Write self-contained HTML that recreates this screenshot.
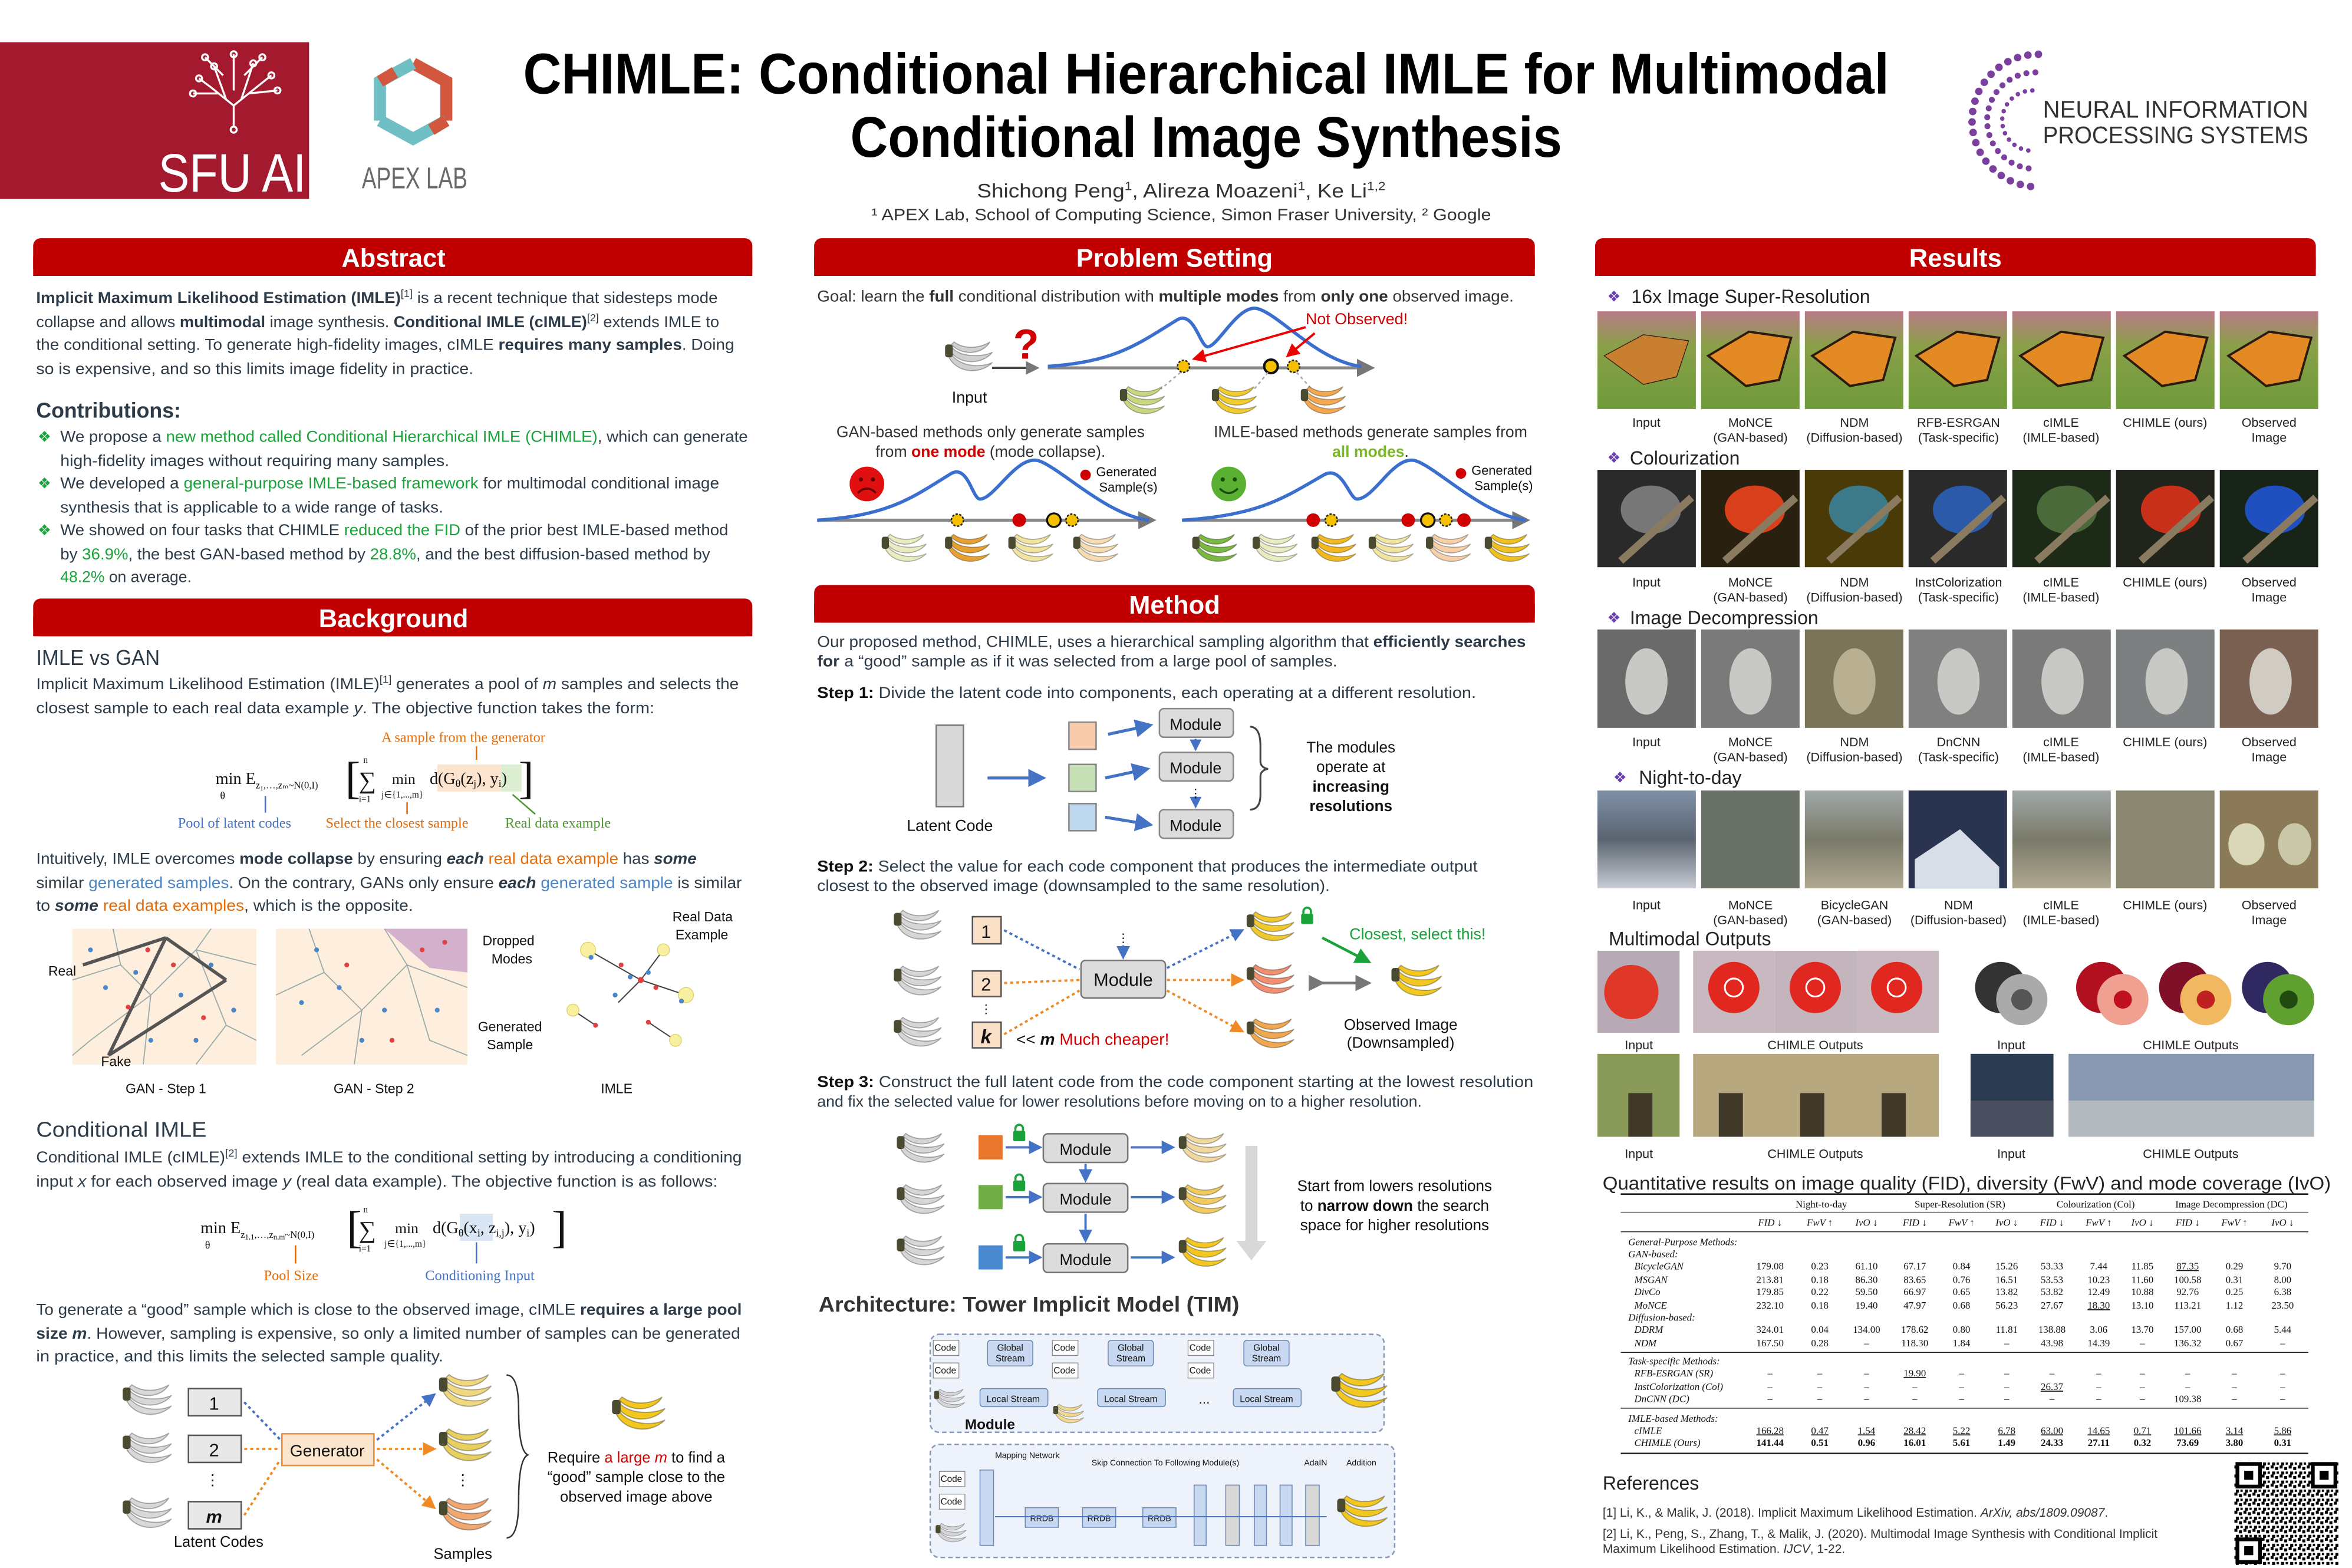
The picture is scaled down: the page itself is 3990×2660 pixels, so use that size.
<!DOCTYPE html>
<html><head><meta charset="utf-8"><style>
html,body{margin:0;padding:0;background:#fff;width:3990px;height:2660px;overflow:hidden}
svg{display:block}
text{font-family:"Liberation Sans",sans-serif;fill:#2d3b48}
.s{font-family:"Liberation Serif",serif}
.w{fill:#fff;font-weight:bold}
.g{fill:#1aa33a}.r{fill:#d10000}.o{fill:#e36c0a}.bl{fill:#4a86c8}
.b{font-weight:bold}
.lab{font-size:8.4px;text-anchor:middle;fill:#222}
.tb{font-family:"Liberation Serif",serif;font-size:6.6px;fill:#111;text-anchor:middle}
.tl{font-family:"Liberation Serif",serif;font-size:6.6px;fill:#111;font-style:italic}
</style></head><body>
<svg width="3990" height="2660" viewBox="0 0 1560 1040" xmlns="http://www.w3.org/2000/svg">
<defs>
<symbol id="ban" viewBox="0 0 40 32">
<path d="M4,16 C10,28 28,30 38,20 C30,24 14,24 6,14 Z" fill="currentColor" stroke="rgba(0,0,0,.3)" stroke-width=".8"/>
<path d="M5,11 C12,22 30,22 38,12 C30,16 14,16 7,9 Z" fill="currentColor" stroke="rgba(0,0,0,.3)" stroke-width=".8"/>
<path d="M6,6 C14,15 30,14 36,4 C28,9 16,10 8,4 Z" fill="currentColor" stroke="rgba(0,0,0,.3)" stroke-width=".8"/>
<rect x="1" y="6" width="6" height="10" rx="2" fill="#4a4a30"/>
</symbol>
<symbol id="lock" viewBox="0 0 10 12"><path d="M2.5,5 V3.5 a2.5,2.5 0 0 1 5,0 V5" fill="none" stroke="#1aa33a" stroke-width="1.4"/><rect x="1" y="5" width="8" height="7" rx="1" fill="#1aa33a"/></symbol>
<marker id="ab" markerWidth="6" markerHeight="6" refX="5" refY="3" orient="auto"><path d="M0,0 L6,3 L0,6Z" fill="#4472c4"/></marker>
<marker id="ag" markerWidth="6" markerHeight="6" refX="5" refY="3" orient="auto"><path d="M0,0 L6,3 L0,6Z" fill="#777"/></marker>
<marker id="ar" markerWidth="6" markerHeight="6" refX="5" refY="3" orient="auto"><path d="M0,0 L6,3 L0,6Z" fill="#e00"/></marker>
<marker id="ao" markerWidth="6" markerHeight="6" refX="5" refY="3" orient="auto"><path d="M0,0 L6,3 L0,6Z" fill="#f08a24"/></marker>
<marker id="agr" markerWidth="6" markerHeight="6" refX="5" refY="3" orient="auto"><path d="M0,0 L6,3 L0,6Z" fill="#1aa33a"/></marker>
<linearGradient id="gsr" x1="0" y1="0" x2="0" y2="1"><stop offset="0" stop-color="#b87a88"/><stop offset=".35" stop-color="#8aa048"/><stop offset="1" stop-color="#6e9a3a"/></linearGradient>
<linearGradient id="gnt" x1="0" y1="0" x2="0" y2="1"><stop offset="0" stop-color="#8090a8"/><stop offset=".5" stop-color="#5a6470"/><stop offset="1" stop-color="#c8ccd4"/></linearGradient>
<linearGradient id="gnd" x1="0" y1="0" x2="0" y2="1"><stop offset="0" stop-color="#a0a8a8"/><stop offset=".5" stop-color="#7a7a6a"/><stop offset="1" stop-color="#b0a890"/></linearGradient>
<pattern id="qr" width="6" height="6" patternUnits="userSpaceOnUse"><rect width="6" height="6" fill="#fff"/><rect x="0" y="0" width="2" height="2" fill="#000"/><rect x="3" y="1" width="2" height="2" fill="#000"/><rect x="1" y="4" width="2" height="2" fill="#000"/><rect x="4" y="4" width="1.5" height="1.5" fill="#000"/></pattern>
</defs>

<!-- HEADER -->
<rect x="0" y="28" width="205" height="104" fill="#a31a2f"/>
<g stroke="#fff" stroke-width="1.3" fill="none">
<path d="M155,84 V70 M155,70 L140,58 L132,52 M155,70 L170,58 L180,50 M150,66 L142,44 M160,66 L168,42 M155,60 V36 M148,50 L136,38 M162,50 L174,38 M145,62 L128,62 M165,62 L184,60"/>
<circle cx="155" cy="36" r="2"/><circle cx="132" cy="52" r="2"/><circle cx="180" cy="50" r="2"/><circle cx="142" cy="44" r="2"/><circle cx="168" cy="42" r="2"/><circle cx="136" cy="38" r="2"/><circle cx="174" cy="38" r="2"/><circle cx="128" cy="62" r="2"/><circle cx="184" cy="60" r="2"/><circle cx="155" cy="86" r="2"/>
</g>
<text x="105" y="127" font-size="36" fill="#fff" style="fill:#fff" textLength="98" lengthAdjust="spacingAndGlyphs">SFU AI</text>
<g fill="none" stroke-width="8">
<path d="M274,42 L296,54 L296,80" stroke="#d2573f"/>
<path d="M296,80 L274,92 L252,80" stroke="#6fbfc4"/>
<path d="M252,80 L252,54 L274,42" stroke="#6fbfc4"/>
<path d="M252,54 L262,48" stroke="#d2573f"/>
<path d="M286,86 L296,80" stroke="#d2573f"/>
</g>
<text x="240" y="125" font-size="20" style="fill:#6a6a6a" textLength="70" lengthAdjust="spacingAndGlyphs">APEX LAB</text>
<text x="347" y="62" font-size="38" class="b" style="fill:#000" textLength="906" lengthAdjust="spacingAndGlyphs">CHIMLE: Conditional Hierarchical IMLE for Multimodal</text>
<text x="564" y="104" font-size="38" class="b" style="fill:#000" textLength="472" lengthAdjust="spacingAndGlyphs">Conditional Image Synthesis</text>
<text x="648" y="131" font-size="13" style="fill:#333" textLength="271" lengthAdjust="spacingAndGlyphs">Shichong Peng<tspan font-size="8" dy="-5">1</tspan><tspan dy="5">, Alireza Moazeni</tspan><tspan font-size="8" dy="-5">1</tspan><tspan dy="5">, Ke Li</tspan><tspan font-size="8" dy="-5">1,2</tspan></text>
<text x="578" y="146" font-size="11" style="fill:#333" textLength="411" lengthAdjust="spacingAndGlyphs">¹ APEX Lab, School of Computing Science, Simon Fraser University, ² Google</text>
<g fill="none" stroke="#7b3f9e" stroke-linecap="round">
<path d="M1352,36 A44,44 0 1 0 1352,124" stroke-width="5" stroke-dasharray="0 7"/>
<path d="M1350,48 A32,32 0 1 0 1350,112" stroke-width="4" stroke-dasharray="0 6"/>
<path d="M1348,60 A20,20 0 1 0 1348,100" stroke-width="3" stroke-dasharray="0 5"/>
</g>
<text x="1355" y="78" font-size="16" style="fill:#333" textLength="176" lengthAdjust="spacingAndGlyphs">NEURAL INFORMATION</text>
<text x="1355" y="95" font-size="16" style="fill:#333" textLength="176" lengthAdjust="spacingAndGlyphs">PROCESSING SYSTEMS</text>

<!-- SECTION BARS -->
<g fill="#c00000">
<rect x="22" y="158" width="477" height="25" rx="5"/><rect x="22" y="170" width="477" height="13"/>
<rect x="22" y="397" width="477" height="25" rx="5"/><rect x="22" y="409" width="477" height="13"/>
<rect x="540" y="158" width="478" height="25" rx="5"/><rect x="540" y="170" width="478" height="13"/>
<rect x="540" y="388" width="478" height="25" rx="5"/><rect x="540" y="400" width="478" height="13"/>
<rect x="1058" y="158" width="478" height="25" rx="5"/><rect x="1058" y="170" width="478" height="13"/>
</g>
<g font-size="17" text-anchor="middle">
<text x="261" y="177" class="w">Abstract</text>
<text x="261" y="416" class="w">Background</text>
<text x="779" y="177" class="w">Problem Setting</text>
<text x="779" y="407" class="w">Method</text>
<text x="1297" y="177" class="w">Results</text>
</g>

<!-- ABSTRACT -->
<g font-size="10.6">
<text x="24" y="201" textLength="452" lengthAdjust="spacingAndGlyphs"><tspan class="b">Implicit Maximum Likelihood Estimation (IMLE)</tspan><tspan font-size="7" dy="-4">[1]</tspan><tspan dy="4"> is a recent technique that sidesteps mode</tspan></text>
<text x="24" y="217" textLength="453" lengthAdjust="spacingAndGlyphs">collapse and allows <tspan class="b">multimodal</tspan> image synthesis. <tspan class="b">Conditional IMLE (cIMLE)</tspan><tspan font-size="7" dy="-4">[2]</tspan><tspan dy="4"> extends IMLE to</tspan></text>
<text x="24" y="232" textLength="463" lengthAdjust="spacingAndGlyphs">the conditional setting. To generate high-fidelity images, cIMLE <tspan class="b">requires many samples</tspan>. Doing</text>
<text x="24" y="248" textLength="290" lengthAdjust="spacingAndGlyphs">so is expensive, and so this limits image fidelity in practice.</text>
<text x="24" y="277" font-size="14" class="b" textLength="96" lengthAdjust="spacingAndGlyphs">Contributions:</text>
<g font-size="10" style="fill:#1aa33a"><text x="25" y="293" class="g">❖</text><text x="25" y="324" class="g">❖</text><text x="25" y="355" class="g">❖</text></g>
<text x="40" y="293" textLength="456" lengthAdjust="spacingAndGlyphs">We propose a <tspan class="g">new method called Conditional Hierarchical IMLE (CHIMLE)</tspan>, which can generate</text>
<text x="40" y="309" textLength="258" lengthAdjust="spacingAndGlyphs">high-fidelity images without requiring many samples.</text>
<text x="40" y="324" textLength="437" lengthAdjust="spacingAndGlyphs">We developed a <tspan class="g">general-purpose IMLE-based framework</tspan> for multimodal conditional image</text>
<text x="40" y="340" textLength="254" lengthAdjust="spacingAndGlyphs">synthesis that is applicable to a wide range of tasks.</text>
<text x="40" y="355" textLength="443" lengthAdjust="spacingAndGlyphs">We showed on four tasks that CHIMLE <tspan class="g">reduced the FID</tspan> of the prior best IMLE-based method</text>
<text x="40" y="371" textLength="431" lengthAdjust="spacingAndGlyphs">by <tspan class="g">36.9%</tspan>, the best GAN-based method by <tspan class="g">28.8%</tspan>, and the best diffusion-based method by</text>
<text x="40" y="386" textLength="87" lengthAdjust="spacingAndGlyphs"><tspan class="g">48.2%</tspan> on average.</text>

<!-- BACKGROUND -->
<text x="24" y="441" font-size="14" textLength="82" lengthAdjust="spacingAndGlyphs">IMLE vs GAN</text>
<text x="24" y="457" textLength="466" lengthAdjust="spacingAndGlyphs">Implicit Maximum Likelihood Estimation (IMLE)<tspan font-size="7" dy="-4">[1]</tspan><tspan dy="4"> generates a pool of </tspan><tspan font-style="italic">m</tspan> samples and selects the</text>
<text x="24" y="473" textLength="410" lengthAdjust="spacingAndGlyphs">closest sample to each real data example <tspan font-style="italic">y</tspan>. The objective function takes the form:</text>
<text x="24" y="573" textLength="438" lengthAdjust="spacingAndGlyphs">Intuitively, IMLE overcomes <tspan class="b">mode collapse</tspan> by ensuring <tspan class="b" font-style="italic">each</tspan> <tspan class="o">real data example</tspan> has <tspan class="b" font-style="italic">some</tspan></text>
<text x="24" y="589" textLength="468" lengthAdjust="spacingAndGlyphs">similar <tspan class="bl">generated samples</tspan>. On the contrary, GANs only ensure <tspan class="b" font-style="italic">each</tspan> <tspan class="bl">generated sample</tspan> is similar</text>
<text x="24" y="604" textLength="250" lengthAdjust="spacingAndGlyphs">to <tspan class="b" font-style="italic">some</tspan> <tspan class="o">real data examples</tspan>, which is the opposite.</text>
<text x="24" y="754" font-size="14" textLength="113" lengthAdjust="spacingAndGlyphs">Conditional IMLE</text>
<text x="24" y="771" textLength="468" lengthAdjust="spacingAndGlyphs">Conditional IMLE (cIMLE)<tspan font-size="7" dy="-4">[2]</tspan><tspan dy="4"> extends IMLE to the conditional setting by introducing a conditioning</tspan></text>
<text x="24" y="787" textLength="452" lengthAdjust="spacingAndGlyphs">input <tspan font-style="italic">x</tspan> for each observed image <tspan font-style="italic">y</tspan> (real data example). The objective function is as follows:</text>
<text x="24" y="872" textLength="468" lengthAdjust="spacingAndGlyphs">To generate a “good” sample which is close to the observed image, cIMLE <tspan class="b">requires a large pool</tspan></text>
<text x="24" y="888" textLength="467" lengthAdjust="spacingAndGlyphs"><tspan class="b">size <tspan font-style="italic">m</tspan></tspan>. However, sampling is expensive, so only a limited number of samples can be generated</text>
<text x="24" y="903" textLength="270" lengthAdjust="spacingAndGlyphs">in practice, and this limits the selected sample quality.</text>
</g>

<!-- formula 1 -->
<g class="s">
<text x="253" y="492" font-size="9.5" class="s o">A sample from the generator</text>
<line x1="316" y1="495" x2="316" y2="504" stroke="#e36c0a" stroke-width="1"/>
<rect x="290" y="507" width="42" height="18" fill="#fde4cf"/>
<rect x="332" y="507" width="14" height="18" fill="#dcefd2"/>
<text x="143" y="520" font-size="11" class="s" style="fill:#111">min E<tspan font-size="6.5" dy="3">z₁,…,zₘ~N(0,I)</tspan></text>
<text x="146" y="530" font-size="7" class="s" style="fill:#111">θ</text>
<text x="229" y="526" font-size="30" class="s" style="fill:#111">[</text>
<text x="238" y="523" font-size="16" class="s" style="fill:#111">∑</text>
<text x="241" y="506" font-size="6" class="s" style="fill:#111">n</text>
<text x="238" y="532" font-size="6" class="s" style="fill:#111">i=1</text>
<text x="260" y="520" font-size="10" class="s" style="fill:#111">min</text>
<text x="253" y="529" font-size="6" class="s" style="fill:#111">j∈{1,...,m}</text>
<text x="285" y="520" font-size="11" class="s" style="fill:#111">d(G<tspan font-size="7" dy="2">θ</tspan><tspan dy="-2">(z</tspan><tspan font-size="7" dy="2">j</tspan><tspan dy="-2">), y</tspan><tspan font-size="7" dy="2">i</tspan><tspan dy="-2">)</tspan></text>
<text x="344" y="526" font-size="30" class="s" style="fill:#111">]</text>
<text x="118" y="549" font-size="9.5" class="s" style="fill:#4472c4">Pool of latent codes</text>
<text x="216" y="549" font-size="9.5" class="s o">Select the closest sample</text>
<text x="335" y="549" font-size="9.5" class="s" style="fill:#4e9a2e">Real data example</text>
<line x1="176" y1="528" x2="176" y2="539" stroke="#4472c4"/><line x1="270" y1="532" x2="270" y2="540" stroke="#e36c0a"/><line x1="340" y1="527" x2="355" y2="540" stroke="#4e9a2e"/>
</g>

<!-- voronoi -->
<g>
<rect x="48" y="616" width="122" height="90" fill="#fdeedd"/>
<g stroke="#9aa" stroke-width=".7" fill="none"><path d="M48,650 L80,640 L100,660 L130,630 L170,640 M80,640 L75,616 M100,660 L95,706 M130,630 L140,616 M130,630 L150,680 L170,690 M100,660 L60,690 L48,700 M150,680 L130,706"/></g>
<g stroke="#555" stroke-width="2.2"><line x1="55" y1="640" x2="110" y2="622"/><line x1="110" y1="622" x2="150" y2="650"/><line x1="72" y1="700" x2="110" y2="622"/><line x1="72" y1="700" x2="150" y2="650"/></g>
<g fill="#4a86c8"><circle cx="70" cy="655" r="1.6"/><circle cx="90" cy="645" r="1.6"/><circle cx="120" cy="660" r="1.6"/><circle cx="140" cy="640" r="1.6"/><circle cx="100" cy="690" r="1.6"/><circle cx="130" cy="690" r="1.6"/><circle cx="155" cy="670" r="1.6"/><circle cx="60" cy="630" r="1.6"/></g>
<g fill="#e04040"><circle cx="85" cy="668" r="1.6"/><circle cx="115" cy="640" r="1.6"/><circle cx="135" cy="675" r="1.6"/><circle cx="98" cy="630" r="1.6"/></g>
<rect x="183" y="616" width="127" height="90" fill="#fdeedd"/>
<path d="M255,616 L310,616 L310,645 L285,642 Z" fill="#c8a0c8" opacity=".8"/>
<g stroke="#9aa" stroke-width=".7" fill="none"><path d="M183,660 L215,645 L240,670 L270,640 L310,655 M215,645 L205,616 M240,670 L235,706 M270,640 L255,616 M270,640 L285,690 L310,700 M240,670 L200,700"/></g>
<g fill="#4a86c8"><circle cx="200" cy="665" r="1.6"/><circle cx="225" cy="655" r="1.6"/><circle cx="255" cy="670" r="1.6"/><circle cx="290" cy="670" r="1.6"/><circle cx="240" cy="690" r="1.6"/><circle cx="210" cy="630" r="1.6"/></g>
<g fill="#e04040"><circle cx="230" cy="640" r="1.6"/><circle cx="260" cy="690" r="1.6"/><circle cx="280" cy="630" r="1.6"/><circle cx="295" cy="625" r="1.6"/></g>
<g stroke="#444" stroke-width=".8"><line x1="390" y1="630" x2="425" y2="650"/><line x1="425" y1="650" x2="455" y2="660"/><line x1="410" y1="665" x2="425" y2="650"/><line x1="440" y1="630" x2="425" y2="650"/><line x1="380" y1="670" x2="395" y2="680"/><line x1="430" y1="678" x2="448" y2="690"/></g>
<g fill="#f8f0a0" stroke="#e0d060" stroke-width=".5"><circle cx="390" cy="630" r="5"/><circle cx="455" cy="660" r="5"/><circle cx="380" cy="670" r="4"/><circle cx="448" cy="690" r="4"/><circle cx="440" cy="630" r="4"/></g>
<g fill="#e04040"><circle cx="425" cy="650" r="2"/><circle cx="412" cy="640" r="1.6"/><circle cx="435" cy="655" r="1.6"/><circle cx="395" cy="680" r="1.6"/><circle cx="430" cy="678" r="1.6"/></g>
<g fill="#4a86c8"><circle cx="418" cy="648" r="1.6"/><circle cx="430" cy="645" r="1.6"/><circle cx="408" cy="660" r="1.6"/><circle cx="392" cy="635" r="1.6"/><circle cx="452" cy="664" r="1.6"/></g>
<g font-size="9" style="fill:#111"><text x="32" y="647" style="fill:#111">Real</text><text x="67" y="707" style="fill:#111">Fake</text>
<text x="320" y="627" style="fill:#111">Dropped</text><text x="326" y="639" style="fill:#111">Modes</text>
<text x="317" y="684" style="fill:#111">Generated</text><text x="323" y="696" style="fill:#111">Sample</text>
<text x="446" y="611" style="fill:#111">Real Data</text><text x="448" y="623" style="fill:#111">Example</text>
<text x="110" y="725" text-anchor="middle" style="fill:#111">GAN - Step 1</text><text x="248" y="725" text-anchor="middle" style="fill:#111">GAN - Step 2</text><text x="409" y="725" text-anchor="middle" style="fill:#111">IMLE</text></g>
</g>

<!-- formula 2 -->
<g>
<rect x="305" y="805" width="22" height="18" fill="#dbe6f5"/>
<text x="133" y="818" font-size="11" class="s" style="fill:#111">min E<tspan font-size="6.5" dy="3">z</tspan><tspan font-size="5" dy="1">1,1</tspan><tspan font-size="6.5" dy="-1">,…,z</tspan><tspan font-size="5" dy="1">n,m</tspan><tspan font-size="6.5" dy="-1">~N(0,I)</tspan></text>
<text x="136" y="828" font-size="7" class="s" style="fill:#111">θ</text>
<text x="230" y="824" font-size="30" class="s" style="fill:#111">[</text>
<text x="238" y="821" font-size="16" class="s" style="fill:#111">∑</text>
<text x="241" y="804" font-size="6" class="s" style="fill:#111">n</text>
<text x="238" y="830" font-size="6" class="s" style="fill:#111">i=1</text>
<text x="262" y="818" font-size="10" class="s" style="fill:#111">min</text>
<text x="255" y="827" font-size="6" class="s" style="fill:#111">j∈{1,...,m}</text>
<text x="287" y="818" font-size="11" class="s" style="fill:#111">d(G<tspan font-size="7" dy="2">θ</tspan><tspan dy="-2">(x</tspan><tspan font-size="7" dy="2">i</tspan><tspan dy="-2">, z</tspan><tspan font-size="7" dy="2">i,j</tspan><tspan dy="-2">), y</tspan><tspan font-size="7" dy="2">i</tspan><tspan dy="-2">)</tspan></text>
<text x="366" y="824" font-size="30" class="s" style="fill:#111">]</text>
<text x="175" y="849" font-size="9.5" class="s o">Pool Size</text>
<text x="282" y="849" font-size="9.5" class="s" style="fill:#4472c4">Conditioning Input</text>
<line x1="196" y1="826" x2="196" y2="838" stroke="#e36c0a"/><line x1="316" y1="824" x2="316" y2="838" stroke="#4472c4"/>
</g>

<!-- bottom-left diagram -->
<g>
<use href="#ban" x="80" y="915" width="36" height="28" style="color:#d8d8d8"/>
<use href="#ban" x="80" y="947" width="36" height="28" style="color:#d8d8d8"/>
<use href="#ban" x="80" y="990" width="36" height="28" style="color:#d8d8d8"/>
<g fill="#e8e8e8" stroke="#555"><rect x="125" y="921" width="35" height="18"/><rect x="125" y="952" width="35" height="18"/><rect x="125" y="996" width="35" height="18"/></g>
<text x="142" y="935" font-size="12" text-anchor="middle" style="fill:#111">1</text>
<text x="142" y="966" font-size="12" text-anchor="middle" style="fill:#111">2</text>
<text x="142" y="1010" font-size="12" text-anchor="middle" font-style="italic" class="b" style="fill:#111">m</text>
<text x="141" y="985" font-size="10" text-anchor="middle" style="fill:#111">⋮</text>
<rect x="187" y="951" width="61" height="21" fill="#fbe5cc" stroke="#e89040"/>
<text x="217" y="966" font-size="11" text-anchor="middle" style="fill:#111">Generator</text>
<g stroke-width="1.5" fill="none" stroke-dasharray="2 2"><line x1="162" y1="930" x2="186" y2="955" stroke="#4472c4"/><line x1="162" y1="961" x2="186" y2="961" stroke="#f08a24"/><line x1="162" y1="1005" x2="186" y2="968" stroke="#f08a24"/>
<line x1="250" y1="955" x2="288" y2="925" stroke="#4472c4" marker-end="url(#ab)"/><line x1="250" y1="961" x2="288" y2="961" stroke="#f08a24" marker-end="url(#ao)"/><line x1="250" y1="968" x2="288" y2="1000" stroke="#f08a24" marker-end="url(#ao)"/></g>
<use href="#ban" x="290" y="908" width="38" height="30" style="color:#f0d880"/>
<use href="#ban" x="290" y="944" width="38" height="30" style="color:#e8d060"/>
<use href="#ban" x="290" y="990" width="38" height="30" style="color:#f0a870"/>
<text x="307" y="985" font-size="10" text-anchor="middle" style="fill:#111">⋮</text>
<path d="M336,912 Q344,912 344,935 Q344,962 350,965 Q344,968 344,995 Q344,1020 336,1020" fill="none" stroke="#333"/>
<use href="#ban" x="405" y="922" width="38" height="32" style="color:#f2c820"/>
<text x="145" y="1026" font-size="10" text-anchor="middle" style="fill:#111">Latent Codes</text>
<text x="307" y="1034" font-size="10" text-anchor="middle" style="fill:#111">Samples</text>
<g font-size="10" text-anchor="middle"><text x="422" y="970" style="fill:#111">Require <tspan class="r">a large <tspan font-style="italic">m</tspan></tspan> to find a</text><text x="422" y="983" style="fill:#111">“good” sample close to the</text><text x="422" y="996" style="fill:#111">observed image above</text></g>
</g>

<!-- PROBLEM SETTING -->
<text x="542" y="200" font-size="10.4" textLength="462" lengthAdjust="spacingAndGlyphs" style="fill:#333">Goal: learn the <tspan class="b">full</tspan> conditional distribution with <tspan class="b">multiple modes</tspan> from <tspan class="b">only one</tspan> observed image.</text>
<use href="#ban" x="626" y="222" width="34" height="30" style="color:#d0d0d0"/>
<text x="643" y="267" font-size="10.5" text-anchor="middle" style="fill:#111">Input</text>
<text x="672" y="238" font-size="28" class="r b">?</text>
<line x1="658" y1="244" x2="688" y2="244" stroke="#444" stroke-width="1.5" marker-end="url(#ag)"/>
<line x1="695" y1="244" x2="910" y2="244" stroke="#888" stroke-width="2" marker-end="url(#ag)"/>
<path d="M695,243 C740,240 755,228 781,212 C792,206 796,230 801,230 C808,230 822,200 835,205 C850,210 875,240 903,243" fill="none" stroke="#3a6fd0" stroke-width="2.2"/>
<circle cx="785" cy="243" r="4" fill="#f5c000" stroke="#222" stroke-dasharray="1.5 1"/>
<circle cx="843" cy="243" r="4.5" fill="#f5c000" stroke="#111" stroke-width="1.6"/>
<circle cx="858" cy="243" r="4" fill="#f5c000" stroke="#222" stroke-dasharray="1.5 1"/>
<text x="866" y="215" font-size="10.5" class="r">Not Observed!</text>
<line x1="866" y1="217" x2="792" y2="238" stroke="#e00" stroke-width="1.5" marker-end="url(#ar)"/>
<line x1="872" y1="221" x2="854" y2="236" stroke="#e00" stroke-width="1.5" marker-end="url(#ar)"/>
<g stroke="#aaa" stroke-dasharray="2 2"><line x1="783" y1="247" x2="770" y2="258"/><line x1="841" y1="247" x2="832" y2="258"/><line x1="860" y1="247" x2="870" y2="258"/></g>
<use href="#ban" x="742" y="252" width="32" height="28" style="color:#c8d880"/>
<use href="#ban" x="803" y="252" width="32" height="28" style="color:#f0cc30"/>
<use href="#ban" x="862" y="252" width="32" height="28" style="color:#f4a850"/>
<g font-size="10.4" text-anchor="middle"><text x="657" y="290" style="fill:#333">GAN-based methods only generate samples</text>
<text x="657" y="303" style="fill:#333">from <tspan class="r b">one mode</tspan> (mode collapse).</text>
<text x="909" y="290" style="fill:#333">IMLE-based methods generate samples from</text>
<text x="909" y="303" style="fill:#333"><tspan class="b" style="fill:#7ab82a">all modes</tspan>.</text></g>
<circle cx="575" cy="321" r="11.5" fill="#e01010"/><circle cx="571" cy="318" r="1.4" fill="#600"/><circle cx="579" cy="318" r="1.4" fill="#600"/><path d="M569,327 Q575,321 581,327" stroke="#600" fill="none" stroke-width="1.3"/>
<circle cx="815" cy="321" r="11.5" fill="#5ab030"/><circle cx="811" cy="318" r="1.4" fill="#1a4a10"/><circle cx="819" cy="318" r="1.4" fill="#1a4a10"/><path d="M809,324 Q815,330 821,324" stroke="#1a4a10" fill="none" stroke-width="1.3"/>
<line x1="542" y1="345" x2="765" y2="345" stroke="#888" stroke-width="2" marker-end="url(#ag)"/>
<path d="M542,345 C590,342 605,330 631,314 C642,308 645,331 650,331 C660,331 675,300 690,306 C705,312 735,342 762,345" fill="none" stroke="#3a6fd0" stroke-width="2.2"/>
<circle cx="635" cy="345" r="4" fill="#f5c000" stroke="#222" stroke-dasharray="1.5 1"/><circle cx="676" cy="345" r="4.5" fill="#d00000"/><circle cx="699" cy="345" r="4.5" fill="#f5c000" stroke="#111" stroke-width="1.3"/><circle cx="711" cy="345" r="4" fill="#f5c000" stroke="#222" stroke-dasharray="1.5 1"/>
<circle cx="720" cy="315" r="3.5" fill="#d00000"/><text x="727" y="316" font-size="8.5" style="fill:#111">Generated</text><text x="729" y="326" font-size="8.5" style="fill:#111">Sample(s)</text>
<use href="#ban" x="584" y="350" width="32" height="28" style="color:#e8ecc0"/>
<use href="#ban" x="626" y="350" width="32" height="28" style="color:#e8a030"/>
<use href="#ban" x="668" y="350" width="32" height="28" style="color:#f0e4a0"/>
<use href="#ban" x="711" y="350" width="32" height="28" style="color:#f6dcb0"/>
<line x1="784" y1="345" x2="1013" y2="345" stroke="#888" stroke-width="2" marker-end="url(#ag)"/>
<path d="M784,345 C835,342 852,330 878,315 C890,308 895,331 900,331 C912,331 925,300 940,306 C955,312 985,342 1012,345" fill="none" stroke="#3a6fd0" stroke-width="2.2"/>
<circle cx="871" cy="345" r="4.5" fill="#d00000"/><circle cx="883" cy="345" r="4" fill="#f5c000" stroke="#222" stroke-dasharray="1.5 1"/><circle cx="934" cy="345" r="4.5" fill="#d00000"/><circle cx="947" cy="345" r="4.5" fill="#f5c000" stroke="#111" stroke-width="1.3"/><circle cx="959" cy="345" r="4" fill="#f5c000" stroke="#222" stroke-dasharray="1.5 1"/><circle cx="971" cy="345" r="4.5" fill="#d00000"/>
<circle cx="969" cy="314" r="3.5" fill="#d00000"/><text x="976" y="315" font-size="8.5" style="fill:#111">Generated</text><text x="978" y="325" font-size="8.5" style="fill:#111">Sample(s)</text>
<use href="#ban" x="790" y="350" width="32" height="28" style="color:#7ab840"/>
<use href="#ban" x="830" y="350" width="32" height="28" style="color:#e8ecc0"/>
<use href="#ban" x="869" y="350" width="32" height="28" style="color:#f2b820"/>
<use href="#ban" x="907" y="350" width="32" height="28" style="color:#f0e4a0"/>
<use href="#ban" x="945" y="350" width="32" height="28" style="color:#f6d0a8"/>
<use href="#ban" x="984" y="350" width="32" height="28" style="color:#f0c020"/>

<!-- METHOD -->
<g font-size="10.4">
<text x="542" y="429" textLength="470" lengthAdjust="spacingAndGlyphs">Our proposed method, CHIMLE, uses a hierarchical sampling algorithm that <tspan class="b">efficiently searches</tspan></text>
<text x="542" y="442" textLength="345" lengthAdjust="spacingAndGlyphs"><tspan class="b">for</tspan> a “good” sample as if it was selected from a large pool of samples.</text>
<text x="542" y="463" textLength="437" lengthAdjust="spacingAndGlyphs"><tspan class="b" style="fill:#111">Step 1:</tspan> Divide the latent code into components, each operating at a different resolution.</text>
<text x="542" y="578" textLength="438" lengthAdjust="spacingAndGlyphs"><tspan class="b" style="fill:#111">Step 2:</tspan> Select the value for each code component that produces the intermediate output</text>
<text x="542" y="591" textLength="340" lengthAdjust="spacingAndGlyphs">closest to the observed image (downsampled to the same resolution).</text>
<text x="542" y="721" textLength="475" lengthAdjust="spacingAndGlyphs"><tspan class="b" style="fill:#111">Step 3:</tspan> Construct the full latent code from the code component starting at the lowest resolution</text>
<text x="542" y="734" textLength="401" lengthAdjust="spacingAndGlyphs">and fix the selected value for lower resolutions before moving on to a higher resolution.</text>
</g>
<!-- step1 diagram -->
<rect x="621" y="481" width="18" height="54" fill="#d9d9d9" stroke="#777"/>
<text x="630" y="551" font-size="10.5" text-anchor="middle" style="fill:#111">Latent Code</text>
<line x1="655" y1="516" x2="692" y2="516" stroke="#4472c4" stroke-width="2" marker-end="url(#ab)"/>
<rect x="709" y="479" width="18" height="18" fill="#f8cbad" stroke="#888"/>
<rect x="709" y="507" width="18" height="18" fill="#c5e0b4" stroke="#888"/>
<rect x="709" y="533" width="18" height="18" fill="#bdd7ee" stroke="#888"/>
<g stroke="#4472c4" stroke-width="2"><line x1="735" y1="487" x2="763" y2="481" marker-end="url(#ab)"/><line x1="733" y1="516" x2="761" y2="510" marker-end="url(#ab)"/><line x1="733" y1="542" x2="763" y2="547" marker-end="url(#ab)"/></g>
<g fill="#dcdcdc" stroke="#888"><rect x="769" y="470" width="49" height="19" rx="3"/><rect x="769" y="499" width="49" height="19" rx="3"/><rect x="769" y="537" width="49" height="19" rx="3"/></g>
<g font-size="10.5" text-anchor="middle"><text x="793" y="484" style="fill:#111">Module</text><text x="793" y="513" style="fill:#111">Module</text><text x="793" y="551" style="fill:#111">Module</text></g>
<g stroke="#4472c4" stroke-width="1.3"><line x1="793" y1="490" x2="793" y2="497" marker-end="url(#ab)"/><line x1="793" y1="528" x2="793" y2="535" marker-end="url(#ab)"/></g>
<text x="793" y="529" font-size="8" text-anchor="middle" style="fill:#111">⋮</text>
<path d="M829,482 Q836,482 836,495 L836,505 Q836,509 841,510 Q836,511 836,515 L836,527 Q836,537 829,537" fill="none" stroke="#444" stroke-width="1.2"/>
<g font-size="10.2" text-anchor="middle"><text x="896" y="499" style="fill:#111">The modules</text><text x="896" y="512" style="fill:#111">operate at</text><text x="896" y="525" class="b" style="fill:#111">increasing</text><text x="896" y="538" class="b" style="fill:#111">resolutions</text></g>
<!-- step2 diagram -->
<use href="#ban" x="592" y="600" width="34" height="28" style="color:#d6d6d6"/>
<use href="#ban" x="592" y="637" width="34" height="28" style="color:#d6d6d6"/>
<use href="#ban" x="592" y="671" width="34" height="28" style="color:#d6d6d6"/>
<g fill="#fbe0c8" stroke="#555"><rect x="645" y="608" width="19" height="18"/><rect x="645" y="644" width="19" height="17"/><rect x="645" y="678" width="19" height="17"/></g>
<text x="654" y="622" font-size="12" text-anchor="middle" style="fill:#111">1</text><text x="654" y="657" font-size="12" text-anchor="middle" style="fill:#111">2</text><text x="654" y="692" font-size="13" text-anchor="middle" class="b" font-style="italic" style="fill:#111">k</text>
<text x="654" y="672" font-size="8" text-anchor="middle" style="fill:#111">⋮</text>
<rect x="717" y="637" width="56" height="25" rx="3" fill="#dcdcdc" stroke="#777"/>
<text x="745" y="654" font-size="12" text-anchor="middle" style="fill:#111">Module</text>
<text x="745" y="625" font-size="8" text-anchor="middle" style="fill:#111">⋮</text>
<g stroke-width="1.5" fill="none" stroke-dasharray="2 2"><line x1="666" y1="617" x2="716" y2="643" stroke="#4472c4"/><line x1="666" y1="652" x2="716" y2="650" stroke="#f08a24"/><line x1="666" y1="686" x2="716" y2="657" stroke="#f08a24"/>
<line x1="774" y1="642" x2="824" y2="617" stroke="#4472c4" marker-end="url(#ab)"/><line x1="774" y1="650" x2="824" y2="650" stroke="#f08a24" marker-end="url(#ao)"/><line x1="774" y1="657" x2="824" y2="684" stroke="#f08a24" marker-end="url(#ao)"/></g>
<line x1="745" y1="627" x2="745" y2="635" stroke="#4472c4" stroke-width="1.5" marker-end="url(#ab)"/>
<text x="674" y="693" font-size="11" style="fill:#111">&lt;&lt; <tspan class="b" font-style="italic">m</tspan> <tspan class="r">Much cheaper!</tspan></text>
<use href="#ban" x="826" y="600" width="34" height="30" style="color:#f0c830"/>
<use href="#ban" x="826" y="635" width="34" height="30" style="color:#f09070"/>
<use href="#ban" x="826" y="671" width="34" height="30" style="color:#f0a850"/>
<use href="#lock" x="862" y="601" width="10" height="12"/>
<text x="895" y="623" font-size="10.5" class="g">Closest, select this!</text>
<line x1="877" y1="622" x2="908" y2="638" stroke="#1aa33a" stroke-width="1.8" marker-end="url(#agr)"/>
<line x1="877" y1="652" x2="908" y2="652" stroke="#777" stroke-width="1.8" marker-end="url(#ag)" marker-start="url(#ag)"/>
<use href="#ban" x="922" y="636" width="36" height="30" style="color:#f2c820"/>
<text x="929" y="683" font-size="10.2" text-anchor="middle" style="fill:#111">Observed Image</text>
<text x="929" y="695" font-size="10.2" text-anchor="middle" style="fill:#111">(Downsampled)</text>
<!-- step3 diagram -->
<use href="#ban" x="594" y="748" width="34" height="28" style="color:#d6d6d6"/>
<use href="#ban" x="594" y="782" width="34" height="28" style="color:#d6d6d6"/>
<use href="#ban" x="594" y="816" width="34" height="28" style="color:#d6d6d6"/>
<rect x="649" y="753" width="16" height="16" fill="#e8762d"/><rect x="649" y="786" width="16" height="16" fill="#70ad47"/><rect x="649" y="826" width="16" height="16" fill="#4a8ad0"/>
<use href="#lock" x="671" y="745" width="10" height="12"/><use href="#lock" x="671" y="778" width="10" height="12"/><use href="#lock" x="671" y="818" width="10" height="12"/>
<g fill="#dcdcdc" stroke="#777"><rect x="692" y="752" width="56" height="19" rx="3"/><rect x="692" y="785" width="56" height="19" rx="3"/><rect x="692" y="825" width="56" height="19" rx="3"/></g>
<g font-size="10.5" text-anchor="middle"><text x="720" y="766" style="fill:#111">Module</text><text x="720" y="799" style="fill:#111">Module</text><text x="720" y="839" style="fill:#111">Module</text></g>
<g stroke="#4472c4" stroke-width="1.5"><line x1="667" y1="761" x2="690" y2="761" marker-end="url(#ab)"/><line x1="667" y1="794" x2="690" y2="794" marker-end="url(#ab)"/><line x1="667" y1="834" x2="690" y2="834" marker-end="url(#ab)"/>
<line x1="750" y1="761" x2="778" y2="761" marker-end="url(#ab)"/><line x1="750" y1="794" x2="778" y2="794" marker-end="url(#ab)"/><line x1="750" y1="834" x2="778" y2="834" marker-end="url(#ab)"/>
<line x1="720" y1="772" x2="720" y2="783" marker-end="url(#ab)"/><line x1="720" y1="805" x2="720" y2="823" marker-end="url(#ab)"/></g>
<use href="#ban" x="781" y="748" width="34" height="28" style="color:#f0d8a0"/>
<use href="#ban" x="781" y="782" width="34" height="28" style="color:#f0cc60"/>
<use href="#ban" x="781" y="816" width="34" height="30" style="color:#f2c820"/>
<path d="M826,760 H834 V823 H840 L830,836 L820,823 H826 Z" fill="#d8d8d8"/>
<g font-size="10.2" text-anchor="middle"><text x="925" y="790" style="fill:#111">Start from lowers resolutions</text><text x="925" y="803" style="fill:#111">to <tspan class="b">narrow down</tspan> the search</text><text x="925" y="816" style="fill:#111">space for higher resolutions</text></g>
<text x="543" y="870" font-size="14" class="b" textLength="279" lengthAdjust="spacingAndGlyphs" style="fill:#333">Architecture: Tower Implicit Model (TIM)</text>
<!-- architecture -->
<rect x="617" y="885" width="301" height="65" rx="6" fill="#eef2fa" stroke="#8a9ab8" stroke-dasharray="3 2"/>
<g font-size="6" text-anchor="middle">
<g fill="#fff" stroke="#888" stroke-width=".5"><rect x="619" y="889" width="17" height="10"/><rect x="619" y="904" width="17" height="10"/><rect x="698" y="889" width="17" height="10"/><rect x="698" y="904" width="17" height="10"/><rect x="788" y="889" width="17" height="10"/><rect x="788" y="904" width="17" height="10"/></g>
<text x="627" y="896" style="fill:#111">Code</text><text x="627" y="911" style="fill:#111">Code</text><text x="706" y="896" style="fill:#111">Code</text><text x="706" y="911" style="fill:#111">Code</text><text x="796" y="896" style="fill:#111">Code</text><text x="796" y="911" style="fill:#111">Code</text>
<g fill="#c8d8f0" stroke="#6a88b8" stroke-width=".6"><rect x="655" y="889" width="30" height="17" rx="2"/><rect x="735" y="889" width="30" height="17" rx="2"/><rect x="825" y="889" width="30" height="17" rx="2"/>
<rect x="650" y="921" width="45" height="12" rx="2"/><rect x="728" y="921" width="45" height="12" rx="2"/><rect x="818" y="921" width="45" height="12" rx="2"/></g>
<text x="670" y="896" style="fill:#111">Global</text><text x="670" y="903" style="fill:#111">Stream</text><text x="750" y="896" style="fill:#111">Global</text><text x="750" y="903" style="fill:#111">Stream</text><text x="840" y="896" style="fill:#111">Global</text><text x="840" y="903" style="fill:#111">Stream</text>
<text x="672" y="930" style="fill:#111">Local Stream</text><text x="750" y="930" style="fill:#111">Local Stream</text><text x="840" y="930" style="fill:#111">Local Stream</text>
</g>
<text x="795" y="931" font-size="9" style="fill:#111">...</text>
<use href="#ban" x="619" y="919" width="22" height="18" style="color:#d6d6d6"/>
<use href="#ban" x="698" y="929" width="22" height="18" style="color:#f0d890"/>
<use href="#ban" x="882" y="906" width="40" height="34" style="color:#f2c820"/>
<text x="640" y="948" font-size="9.5" class="b" style="fill:#111">Module</text>
<rect x="617" y="958" width="308" height="75" rx="6" fill="#eef2fa" stroke="#8a9ab8" stroke-dasharray="3 2"/>
<g font-size="5.5"><text x="660" y="967" style="fill:#111">Mapping Network</text><text x="724" y="972" style="fill:#111">Skip Connection To Following Module(s)</text><text x="865" y="972" style="fill:#111">AdaIN</text><text x="893" y="972" style="fill:#111">Addition</text></g>
<g fill="#fff" stroke="#888" stroke-width=".5"><rect x="623" y="976" width="17" height="10"/><rect x="623" y="991" width="17" height="10"/></g>
<text x="631" y="983" font-size="6" text-anchor="middle" style="fill:#111">Code</text><text x="631" y="998" font-size="6" text-anchor="middle" style="fill:#111">Code</text>
<g fill="#c8d8f0" stroke="#6a88b8" stroke-width=".6"><rect x="650" y="975" width="9" height="50"/><rect x="680" y="1000" width="22" height="13"/><rect x="718" y="1000" width="22" height="13"/><rect x="758" y="1000" width="22" height="13"/><rect x="792" y="985" width="8" height="40"/><rect x="813" y="985" width="9" height="40" fill="#d8d8d8"/><rect x="832" y="985" width="8" height="40"/><rect x="849" y="985" width="8" height="40"/><rect x="866" y="985" width="9" height="40" fill="#d8d8d8"/></g>
<g font-size="5.5" text-anchor="middle"><text x="691" y="1009" style="fill:#111">RRDB</text><text x="729" y="1009" style="fill:#111">RRDB</text><text x="769" y="1009" style="fill:#111">RRDB</text></g>
<line x1="660" y1="1006" x2="880" y2="1006" stroke="#4472c4" stroke-width=".8"/>
<use href="#ban" x="886" y="988" width="36" height="30" style="color:#f2c820"/>
<use href="#ban" x="620" y="1008" width="22" height="18" style="color:#d6d6d6"/>

<!-- RESULTS -->
<g font-size="12.5" style="fill:#222">
<text x="1066" y="200" font-size="10" style="fill:#6a3fb0">❖</text><text x="1082" y="201" style="fill:#222">16x Image Super-Resolution</text>
<text x="1066" y="307" font-size="10" style="fill:#6a3fb0">❖</text><text x="1081" y="308" style="fill:#222">Colourization</text>
<text x="1066" y="413" font-size="10" style="fill:#6a3fb0">❖</text><text x="1081" y="414" style="fill:#222">Image Decompression</text>
<text x="1070" y="519" font-size="10" style="fill:#6a3fb0">❖</text><text x="1087" y="520" style="fill:#222">Night-to-day</text>
<text x="1067" y="627" style="fill:#222">Multimodal Outputs</text>
</g>
<!-- SR row -->
<g>
<rect x="1059.5" y="206.5" width="65.3" height="64.8" fill="url(#gsr)"/><rect x="1128.3" y="206.5" width="65.3" height="64.8" fill="url(#gsr)"/><rect x="1197.1" y="206.5" width="65.3" height="64.8" fill="url(#gsr)"/><rect x="1265.9" y="206.5" width="65.3" height="64.8" fill="url(#gsr)"/><rect x="1334.7" y="206.5" width="65.3" height="64.8" fill="url(#gsr)"/><rect x="1403.5" y="206.5" width="65.3" height="64.8" fill="url(#gsr)"/><rect x="1472.3" y="206.5" width="65.3" height="64.8" fill="url(#gsr)"/>
<g fill="#e48a24" stroke="#2a1a10" stroke-width="1.5">
<path d="M1064,236 L1090,222 L1120,226 L1112,250 L1090,255 Z" stroke-width=".5" fill="#c88030"/>
<path d="M1133,236 L1160,220 L1188,224 L1180,252 L1158,256 Z"/><path d="M1202,236 L1229,220 L1257,224 L1249,252 L1227,256 Z"/><path d="M1271,236 L1298,220 L1326,224 L1318,252 L1296,256 Z"/><path d="M1340,236 L1367,220 L1395,224 L1387,252 L1365,256 Z"/><path d="M1409,236 L1436,220 L1464,224 L1456,252 L1434,256 Z"/><path d="M1478,236 L1505,220 L1533,224 L1525,252 L1503,256 Z"/>
</g>
</g>
<!-- Col row -->
<g>
<rect x="1059.5" y="311.6" width="65.3" height="64.6" fill="#2a2a2a"/><rect x="1128.3" y="311.6" width="65.3" height="64.6" fill="#2a2010"/><rect x="1197.1" y="311.6" width="65.3" height="64.6" fill="#4a3a08"/><rect x="1265.9" y="311.6" width="65.3" height="64.6" fill="#2a2a2a"/><rect x="1334.7" y="311.6" width="65.3" height="64.6" fill="#1e2a18"/><rect x="1403.5" y="311.6" width="65.3" height="64.6" fill="#20241a"/><rect x="1472.3" y="311.6" width="65.3" height="64.6" fill="#182418"/>
<ellipse cx="1095" cy="338" rx="20" ry="16" fill="#777"/><ellipse cx="1164" cy="338" rx="20" ry="16" fill="#d8401c"/><ellipse cx="1233" cy="338" rx="20" ry="16" fill="#3c7a8a"/><ellipse cx="1302" cy="338" rx="20" ry="16" fill="#2a5aa8"/><ellipse cx="1371" cy="338" rx="20" ry="16" fill="#4a6a3a"/><ellipse cx="1440" cy="338" rx="20" ry="16" fill="#c8301a"/><ellipse cx="1509" cy="338" rx="20" ry="16" fill="#2050c0"/>
<g stroke="#8a7a60" stroke-width="5"><line x1="1075" y1="372" x2="1122" y2="330"/><line x1="1144" y1="372" x2="1191" y2="330"/><line x1="1213" y1="372" x2="1260" y2="330"/><line x1="1282" y1="372" x2="1329" y2="330"/><line x1="1351" y1="372" x2="1398" y2="330"/><line x1="1420" y1="372" x2="1467" y2="330"/><line x1="1489" y1="372" x2="1536" y2="330"/></g>
</g>
<!-- DC row -->
<g>
<rect x="1059.5" y="417.5" width="65.3" height="65.3" fill="#6a6a6a"/><rect x="1128.3" y="417.5" width="65.3" height="65.3" fill="#7a7a7a"/><rect x="1197.1" y="417.5" width="65.3" height="65.3" fill="#7a7458"/><rect x="1265.9" y="417.5" width="65.3" height="65.3" fill="#808080"/><rect x="1334.7" y="417.5" width="65.3" height="65.3" fill="#7a7a7a"/><rect x="1403.5" y="417.5" width="65.3" height="65.3" fill="#7c8080"/><rect x="1472.3" y="417.5" width="65.3" height="65.3" fill="#7a6050"/>
<g fill="#c8c8c4"><ellipse cx="1092" cy="452" rx="14" ry="22"/><ellipse cx="1161" cy="452" rx="14" ry="22"/><ellipse cx="1230" cy="452" rx="14" ry="22" fill="#b8b090"/><ellipse cx="1299" cy="452" rx="14" ry="22"/><ellipse cx="1368" cy="452" rx="14" ry="22"/><ellipse cx="1437" cy="452" rx="14" ry="22"/><ellipse cx="1506" cy="452" rx="14" ry="22" fill="#d0ccc4"/></g>
</g>
<!-- Night row -->
<g>
<rect x="1059.5" y="524.3" width="65.3" height="64.9" fill="url(#gnt)"/><rect x="1128.3" y="524.3" width="65.3" height="64.9" fill="#6a7268"/><rect x="1197.1" y="524.3" width="65.3" height="64.9" fill="url(#gnd)"/><rect x="1265.9" y="524.3" width="65.3" height="64.9" fill="#2a3450"/><rect x="1334.7" y="524.3" width="65.3" height="64.9" fill="url(#gnd)"/><rect x="1403.5" y="524.3" width="65.3" height="64.9" fill="#8a8670"/><rect x="1472.3" y="524.3" width="65.3" height="64.9" fill="#8a7a58"/>
<path d="M1270,570 L1300,550 L1326,575 L1326,589 L1270,589Z" fill="#d8dde8"/><ellipse cx="1490" cy="560" rx="12" ry="14" fill="#d8d8b8"/><ellipse cx="1522" cy="560" rx="11" ry="14" fill="#c8c8a8"/>
</g>
<g>
<text x="1092" y="283" class="lab">Input</text><text x="1161" y="283" class="lab">MoNCE</text><text x="1161" y="293" class="lab">(GAN-based)</text><text x="1230" y="283" class="lab">NDM</text><text x="1230" y="293" class="lab">(Diffusion-based)</text><text x="1299" y="283" class="lab">RFB-ESRGAN</text><text x="1299" y="293" class="lab">(Task-specific)</text><text x="1367" y="283" class="lab">cIMLE</text><text x="1367" y="293" class="lab">(IMLE-based)</text><text x="1436" y="283" class="lab">CHIMLE (ours)</text><text x="1505" y="283" class="lab">Observed</text><text x="1505" y="293" class="lab">Image</text>
<text x="1092" y="389" class="lab">Input</text><text x="1161" y="389" class="lab">MoNCE</text><text x="1161" y="399" class="lab">(GAN-based)</text><text x="1230" y="389" class="lab">NDM</text><text x="1230" y="399" class="lab">(Diffusion-based)</text><text x="1299" y="389" class="lab">InstColorization</text><text x="1299" y="399" class="lab">(Task-specific)</text><text x="1367" y="389" class="lab">cIMLE</text><text x="1367" y="399" class="lab">(IMLE-based)</text><text x="1436" y="389" class="lab">CHIMLE (ours)</text><text x="1505" y="389" class="lab">Observed</text><text x="1505" y="399" class="lab">Image</text>
<text x="1092" y="495" class="lab">Input</text><text x="1161" y="495" class="lab">MoNCE</text><text x="1161" y="505" class="lab">(GAN-based)</text><text x="1230" y="495" class="lab">NDM</text><text x="1230" y="505" class="lab">(Diffusion-based)</text><text x="1299" y="495" class="lab">DnCNN</text><text x="1299" y="505" class="lab">(Task-specific)</text><text x="1367" y="495" class="lab">cIMLE</text><text x="1367" y="505" class="lab">(IMLE-based)</text><text x="1436" y="495" class="lab">CHIMLE (ours)</text><text x="1505" y="495" class="lab">Observed</text><text x="1505" y="505" class="lab">Image</text>
<text x="1092" y="603" class="lab">Input</text><text x="1161" y="603" class="lab">MoNCE</text><text x="1161" y="613" class="lab">(GAN-based)</text><text x="1230" y="603" class="lab">BicycleGAN</text><text x="1230" y="613" class="lab">(GAN-based)</text><text x="1299" y="603" class="lab">NDM</text><text x="1299" y="613" class="lab">(Diffusion-based)</text><text x="1367" y="603" class="lab">cIMLE</text><text x="1367" y="613" class="lab">(IMLE-based)</text><text x="1436" y="603" class="lab">CHIMLE (ours)</text><text x="1505" y="603" class="lab">Observed</text><text x="1505" y="613" class="lab">Image</text>
</g>
<!-- multimodal -->
<g>
<rect x="1059.5" y="630.6" width="54.5" height="54.4" fill="#b8aab4"/><circle cx="1082" cy="658" r="18" fill="#e03828"/>
<rect x="1123" y="630.6" width="54.3" height="54.4" fill="#c8b8c0"/><rect x="1177.3" y="630.6" width="54.3" height="54.4" fill="#c4b4bc"/><rect x="1231.6" y="630.6" width="54.4" height="54.4" fill="#c8b8c0"/>
<circle cx="1150" cy="655" r="17" fill="#e02820"/><circle cx="1204" cy="655" r="17" fill="#e02820"/><circle cx="1258" cy="655" r="17" fill="#e02820"/>
<g fill="none" stroke="#fff" stroke-width="1.2"><circle cx="1150" cy="655" r="6"/><circle cx="1204" cy="655" r="6"/><circle cx="1258" cy="655" r="6"/></g>
<circle cx="1327" cy="655" r="17" fill="#333"/><circle cx="1341" cy="663" r="17" fill="#aaa"/><circle cx="1341" cy="663" r="7" fill="#555"/>
<circle cx="1394" cy="655" r="17" fill="#b01020"/><circle cx="1408" cy="663" r="17" fill="#f0a090"/><circle cx="1408" cy="663" r="6" fill="#c01020"/>
<circle cx="1449" cy="655" r="17" fill="#801028"/><circle cx="1463" cy="663" r="17" fill="#f0b860"/><circle cx="1463" cy="663" r="6" fill="#c02020"/>
<circle cx="1504" cy="655" r="17" fill="#302860"/><circle cx="1518" cy="663" r="17" fill="#60a030"/><circle cx="1518" cy="663" r="6" fill="#204a10"/>
<rect x="1059.5" y="699" width="54.5" height="55" fill="#8a9a58"/><rect x="1123" y="699" width="163" height="55" fill="#b8a880"/>
<g fill="#403828"><rect x="1080" y="725" width="16" height="29"/><rect x="1140" y="725" width="16" height="29"/><rect x="1194" y="725" width="16" height="29"/><rect x="1248" y="725" width="16" height="29"/></g>
<rect x="1307" y="699" width="55" height="55" fill="#2a3a50"/><rect x="1372" y="699" width="163" height="55" fill="#8898b0"/>
<rect x="1372" y="730" width="163" height="24" fill="#c8c8c8" opacity=".7"/><rect x="1307" y="730" width="55" height="24" fill="#4a5060"/>
<g class="lab" font-size="8.6"><text x="1087" y="696" class="lab">Input</text><text x="1204" y="696" class="lab">CHIMLE Outputs</text><text x="1334" y="696" class="lab">Input</text><text x="1453" y="696" class="lab">CHIMLE Outputs</text>
<text x="1087" y="768" class="lab">Input</text><text x="1204" y="768" class="lab">CHIMLE Outputs</text><text x="1334" y="768" class="lab">Input</text><text x="1453" y="768" class="lab">CHIMLE Outputs</text></g>
</g>
<!-- table -->
<text x="1063" y="789" font-size="12.3" textLength="483" lengthAdjust="spacingAndGlyphs" style="fill:#222">Quantitative results on image quality (FID), diversity (FwV) and mode coverage (IvO)</text>
<g stroke="#222"><line x1="1075" y1="792" x2="1531" y2="792" stroke-width="1"/><line x1="1075" y1="804" x2="1531" y2="804" stroke-width=".4"/><line x1="1075" y1="817" x2="1531" y2="817" stroke-width=".6"/><line x1="1075" y1="897" x2="1531" y2="897" stroke-width=".6"/><line x1="1075" y1="934" x2="1531" y2="934" stroke-width=".6"/><line x1="1075" y1="964" x2="1531" y2="964" stroke-width="1"/></g>
<g class="tb"><text x="1208" y="801" class="tb">Night-to-day</text><text x="1300" y="801" class="tb">Super-Resolution (SR)</text><text x="1390" y="801" class="tb">Colourization (Col)</text><text x="1480" y="801" class="tb">Image Decompression (DC)</text></g>
<g class="tb" font-style="italic">
<text x="1174" y="813" class="tb">FID ↓</text><text x="1207" y="813" class="tb">FwV ↑</text><text x="1238" y="813" class="tb">IvO ↓</text><text x="1270" y="813" class="tb">FID ↓</text><text x="1301" y="813" class="tb">FwV ↑</text><text x="1331" y="813" class="tb">IvO ↓</text><text x="1361" y="813" class="tb">FID ↓</text><text x="1392" y="813" class="tb">FwV ↑</text><text x="1421" y="813" class="tb">IvO ↓</text><text x="1451" y="813" class="tb">FID ↓</text><text x="1482" y="813" class="tb">FwV ↑</text><text x="1514" y="813" class="tb">IvO ↓</text>
</g>
<g>
<text x="1080" y="826" class="tl" font-style="normal">General-Purpose Methods:</text>
<text x="1080" y="834" class="tl">GAN-based:</text>
<text x="1084" y="842" class="tl">BicycleGAN</text><text x="1084" y="851" class="tl">MSGAN</text><text x="1084" y="859" class="tl">DivCo</text><text x="1084" y="868" class="tl">MoNCE</text>
<text x="1080" y="876" class="tl">Diffusion-based:</text>
<text x="1084" y="884" class="tl">DDRM</text><text x="1084" y="893" class="tl">NDM</text>
<text x="1080" y="905" class="tl" font-style="normal">Task-specific Methods:</text>
<text x="1084" y="913" class="tl">RFB-ESRGAN (SR)</text><text x="1084" y="922" class="tl">InstColorization (Col)</text><text x="1084" y="930" class="tl">DnCNN (DC)</text>
<text x="1080" y="943" class="tl" font-style="normal">IMLE-based Methods:</text>
<text x="1084" y="951" class="tl">cIMLE</text><text x="1084" y="959" class="tl">CHIMLE (Ours)</text>
</g>
<g class="tb">
<g transform="translate(0,842)"><text x="1174" class="tb">179.08</text><text x="1207" class="tb">0.23</text><text x="1238" class="tb">61.10</text><text x="1270" class="tb">67.17</text><text x="1301" class="tb">0.84</text><text x="1331" class="tb">15.26</text><text x="1361" class="tb">53.33</text><text x="1392" class="tb">7.44</text><text x="1421" class="tb">11.85</text><text x="1451" class="tb" text-decoration="underline">87.35</text><text x="1482" class="tb">0.29</text><text x="1514" class="tb">9.70</text></g>
<g transform="translate(0,851)"><text x="1174" class="tb">213.81</text><text x="1207" class="tb">0.18</text><text x="1238" class="tb">86.30</text><text x="1270" class="tb">83.65</text><text x="1301" class="tb">0.76</text><text x="1331" class="tb">16.51</text><text x="1361" class="tb">53.53</text><text x="1392" class="tb">10.23</text><text x="1421" class="tb">11.60</text><text x="1451" class="tb">100.58</text><text x="1482" class="tb">0.31</text><text x="1514" class="tb">8.00</text></g>
<g transform="translate(0,859)"><text x="1174" class="tb">179.85</text><text x="1207" class="tb">0.22</text><text x="1238" class="tb">59.50</text><text x="1270" class="tb">66.97</text><text x="1301" class="tb">0.65</text><text x="1331" class="tb">13.82</text><text x="1361" class="tb">53.82</text><text x="1392" class="tb">12.49</text><text x="1421" class="tb">10.88</text><text x="1451" class="tb">92.76</text><text x="1482" class="tb">0.25</text><text x="1514" class="tb">6.38</text></g>
<g transform="translate(0,868)"><text x="1174" class="tb">232.10</text><text x="1207" class="tb">0.18</text><text x="1238" class="tb">19.40</text><text x="1270" class="tb">47.97</text><text x="1301" class="tb">0.68</text><text x="1331" class="tb">56.23</text><text x="1361" class="tb">27.67</text><text x="1392" class="tb" text-decoration="underline">18.30</text><text x="1421" class="tb">13.10</text><text x="1451" class="tb">113.21</text><text x="1482" class="tb">1.12</text><text x="1514" class="tb">23.50</text></g>
<g transform="translate(0,884)"><text x="1174" class="tb">324.01</text><text x="1207" class="tb">0.04</text><text x="1238" class="tb">134.00</text><text x="1270" class="tb">178.62</text><text x="1301" class="tb">0.80</text><text x="1331" class="tb">11.81</text><text x="1361" class="tb">138.88</text><text x="1392" class="tb">3.06</text><text x="1421" class="tb">13.70</text><text x="1451" class="tb">157.00</text><text x="1482" class="tb">0.68</text><text x="1514" class="tb">5.44</text></g>
<g transform="translate(0,893)"><text x="1174" class="tb">167.50</text><text x="1207" class="tb">0.28</text><text x="1238" class="tb">–</text><text x="1270" class="tb">118.30</text><text x="1301" class="tb">1.84</text><text x="1331" class="tb">–</text><text x="1361" class="tb">43.98</text><text x="1392" class="tb">14.39</text><text x="1421" class="tb">–</text><text x="1451" class="tb">136.32</text><text x="1482" class="tb">0.67</text><text x="1514" class="tb">–</text></g>
<g transform="translate(0,913)"><text x="1174" class="tb">–</text><text x="1207" class="tb">–</text><text x="1238" class="tb">–</text><text x="1270" class="tb" text-decoration="underline">19.90</text><text x="1301" class="tb">–</text><text x="1331" class="tb">–</text><text x="1361" class="tb">–</text><text x="1392" class="tb">–</text><text x="1421" class="tb">–</text><text x="1451" class="tb">–</text><text x="1482" class="tb">–</text><text x="1514" class="tb">–</text></g>
<g transform="translate(0,922)"><text x="1174" class="tb">–</text><text x="1207" class="tb">–</text><text x="1238" class="tb">–</text><text x="1270" class="tb">–</text><text x="1301" class="tb">–</text><text x="1331" class="tb">–</text><text x="1361" class="tb" text-decoration="underline">26.37</text><text x="1392" class="tb">–</text><text x="1421" class="tb">–</text><text x="1451" class="tb">–</text><text x="1482" class="tb">–</text><text x="1514" class="tb">–</text></g>
<g transform="translate(0,930)"><text x="1174" class="tb">–</text><text x="1207" class="tb">–</text><text x="1238" class="tb">–</text><text x="1270" class="tb">–</text><text x="1301" class="tb">–</text><text x="1331" class="tb">–</text><text x="1361" class="tb">–</text><text x="1392" class="tb">–</text><text x="1421" class="tb">–</text><text x="1451" class="tb">109.38</text><text x="1482" class="tb">–</text><text x="1514" class="tb">–</text></g>
<g transform="translate(0,951)" text-decoration="underline"><text x="1174" class="tb">166.28</text><text x="1207" class="tb">0.47</text><text x="1238" class="tb">1.54</text><text x="1270" class="tb" text-decoration="none">28.42</text><text x="1301" class="tb">5.22</text><text x="1331" class="tb">6.78</text><text x="1361" class="tb" text-decoration="none">63.00</text><text x="1392" class="tb" text-decoration="none">14.65</text><text x="1421" class="tb">0.71</text><text x="1451" class="tb" text-decoration="none">101.66</text><text x="1482" class="tb">3.14</text><text x="1514" class="tb">5.86</text></g>
<g transform="translate(0,959)" font-weight="bold"><text x="1174" class="tb">141.44</text><text x="1207" class="tb">0.51</text><text x="1238" class="tb">0.96</text><text x="1270" class="tb">16.01</text><text x="1301" class="tb">5.61</text><text x="1331" class="tb">1.49</text><text x="1361" class="tb">24.33</text><text x="1392" class="tb">27.11</text><text x="1421" class="tb">0.32</text><text x="1451" class="tb">73.69</text><text x="1482" class="tb">3.80</text><text x="1514" class="tb">0.31</text></g>
</g>
<!-- references -->
<text x="1063" y="988" font-size="12.5" style="fill:#222">References</text>
<text x="1063" y="1006" font-size="8.2" style="fill:#333">[1] Li, K., &amp; Malik, J. (2018). Implicit Maximum Likelihood Estimation. <tspan font-style="italic">ArXiv, abs/1809.09087</tspan>.</text>
<text x="1063" y="1020" font-size="8.2" style="fill:#333">[2] Li, K., Peng, S., Zhang, T., &amp; Malik, J. (2020). Multimodal Image Synthesis with Conditional Implicit</text>
<text x="1063" y="1030" font-size="8.2" style="fill:#333">Maximum Likelihood Estimation. <tspan font-style="italic">IJCV</tspan>, 1-22.</text>
<rect x="1482" y="969" width="69" height="69" fill="url(#qr)"/>
<g fill="#fff" stroke="#000" stroke-width="2.5"><rect x="1484" y="971" width="15" height="15"/><rect x="1534" y="971" width="15" height="15"/><rect x="1484" y="1021" width="15" height="15"/></g>
<g fill="#000"><rect x="1488.5" y="975.5" width="6" height="6"/><rect x="1538.5" y="975.5" width="6" height="6"/><rect x="1488.5" y="1025.5" width="6" height="6"/></g>
</svg>
</body></html>
